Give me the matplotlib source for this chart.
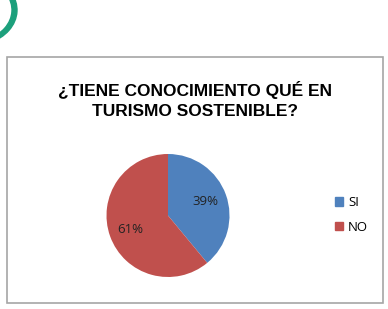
import matplotlib.pyplot as plt
from matplotlib.patches import Rectangle, Wedge, Patch

# datos del grafico
categorias = ['SI', 'NO']
porcentajes = [39, 61]
colores = ['#4f81bd', '#c0504d']
titulo = '¿TIENE CONOCIMIENTO QUÉ EN\nTURISMO SOSTENIBLE?'

W, H = 388, 309
fig = plt.figure(figsize=(W / 100, H / 100), dpi=100)

# logo recortado arriba a la izquierda
logo = Wedge((-27.5 / W, 1 - 10 / H), 44.5 / W, -100, 30, width=5 / W,
             transform=fig.transFigure, color='#1ca07c')
fig.patches.append(logo)

# marco del grafico
fig.patches.append(Rectangle((7 / W, 1 - 303 / H), 376 / W, 246 / H,
                             transform=fig.transFigure, fill=False,
                             edgecolor='#a6a6a6', linewidth=1.2))

fig.text(195 / W, 1 - 100 / H, titulo, ha='center', va='center',
         fontsize=12.5, fontweight='bold', family='Liberation Sans',
         linespacing=1.4)

# pastel
ax = fig.add_axes([(168 - 61.5) / W, 1 - 277 / H, 123 / W, 123 / H])
ax.pie(porcentajes, colors=colores, startangle=90, counterclock=False,
       autopct='%d%%', pctdistance=0.65,
       textprops={'fontsize': 9.5, 'color': '#222222', 'family': 'Open Sans'})
ax.set_xlim(-1, 1)
ax.set_ylim(-1, 1)
ax.set_aspect('equal')

manijas = [Patch(color=c) for c in colores]
fig.legend(manijas, categorias, loc='center left',
           bbox_to_anchor=(323 / W, 1 - 215 / H), frameon=False,
           handlelength=0.6, handleheight=0.6, handletextpad=0.4,
           labelspacing=0.9, prop={'family': 'Open Sans', 'size': 9.5})

plt.savefig('out.png', dpi=100)
